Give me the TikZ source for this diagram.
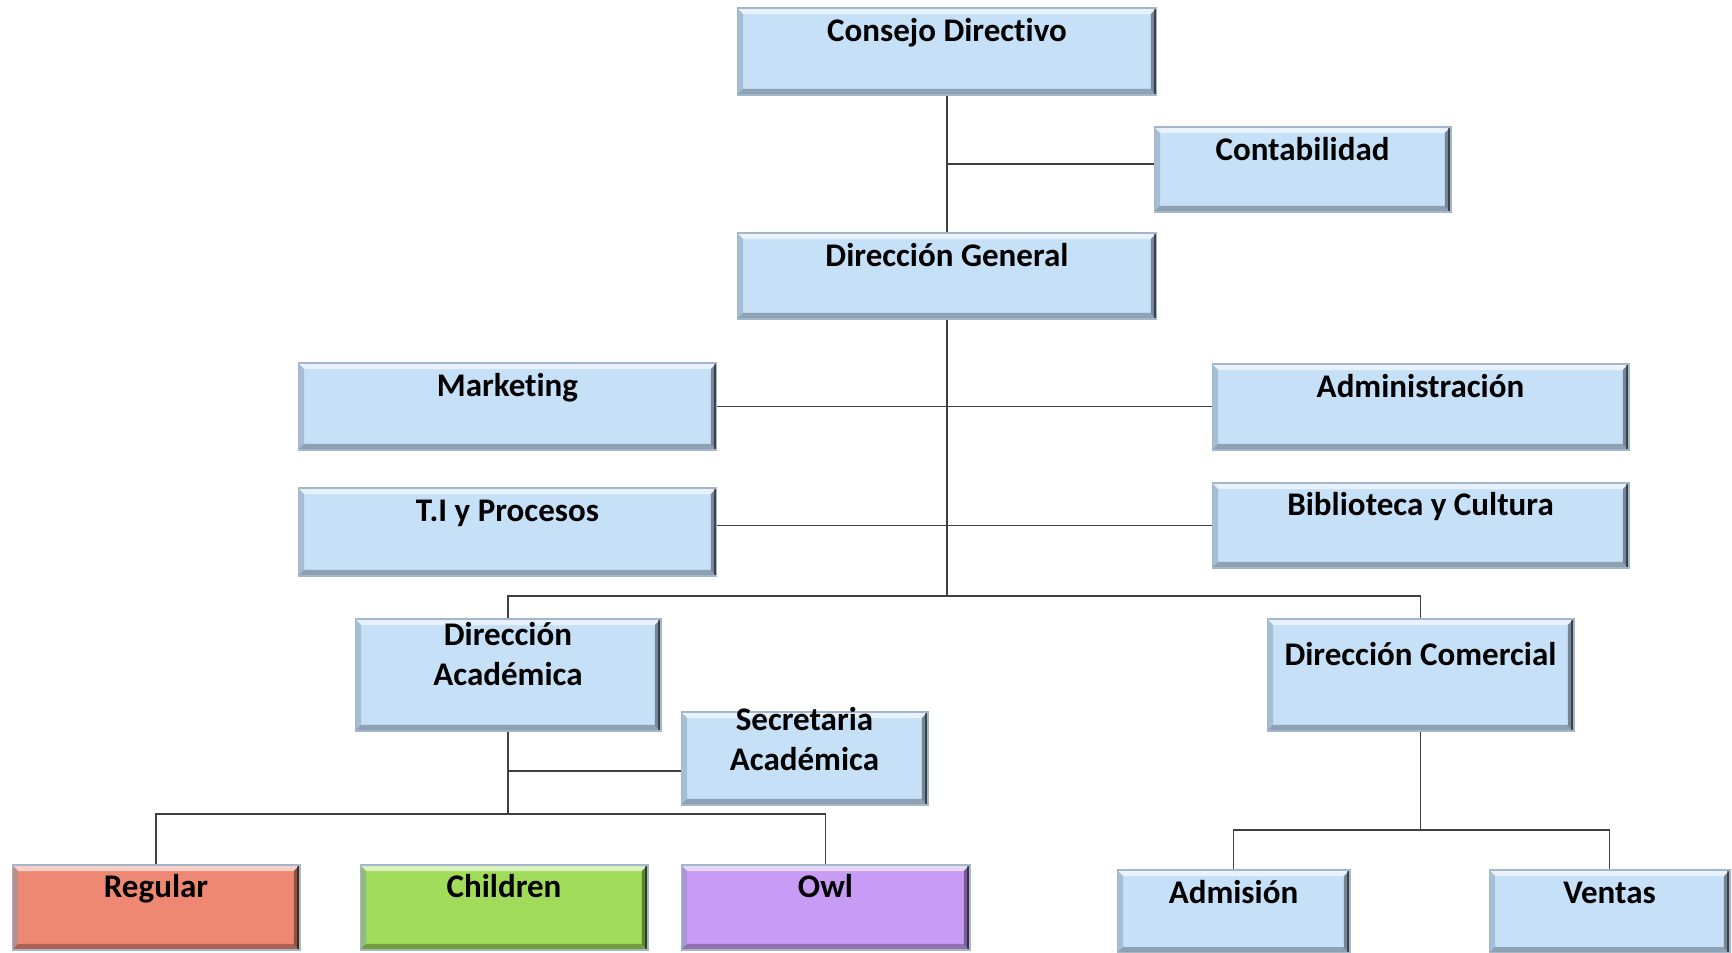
\documentclass[tikz,border=0pt]{standalone}
\usepackage{fontspec}
\setmainfont{Carlito}[Ligatures={NoCommon,NoContextual}]
\usetikzlibrary{calc}
\definecolor{boxblue}{HTML}{C6E0F8}
\definecolor{boxsalmon}{HTML}{EE8872}
\definecolor{boxgreen}{HTML}{A0DC5A}
\definecolor{boxpurple}{HTML}{C89CF4}
\definecolor{bordc}{HTML}{A3B6CA}
\definecolor{leftc}{HTML}{7F95AC}
\definecolor{linec}{HTML}{404040}
\newcommand\bvw{0.12cm}
\tikzset{
  orgbox/.style={rectangle, inner sep=0pt, fill=#1, draw=bordc, line width=0.6pt,
    path picture={
      \fill[white,opacity=.6] (path picture bounding box.north west) -- (path picture bounding box.north east)
        -- ([xshift=-\bvw,yshift=-\bvw]path picture bounding box.north east)
        -- ([xshift=\bvw,yshift=-\bvw]path picture bounding box.north west) -- cycle;
      \fill[leftc,opacity=.45] (path picture bounding box.north west) -- (path picture bounding box.south west)
        -- ([xshift=\bvw,yshift=\bvw]path picture bounding box.south west)
        -- ([xshift=\bvw,yshift=-\bvw]path picture bounding box.north west) -- cycle;
      \fill[black,opacity=.28] (path picture bounding box.south west) -- (path picture bounding box.south east)
        -- ([xshift=-\bvw,yshift=\bvw]path picture bounding box.south east)
        -- ([xshift=\bvw,yshift=\bvw]path picture bounding box.south west) -- cycle;
      \fill[black,opacity=.40] (path picture bounding box.north east) -- (path picture bounding box.south east)
        -- ([xshift=-\bvw,yshift=\bvw]path picture bounding box.south east)
        -- ([xshift=-\bvw,yshift=-\bvw]path picture bounding box.north east) -- cycle;
      \fill[black,opacity=.5] ([xshift=-0.05cm]path picture bounding box.north east) rectangle (path picture bounding box.south east);
    }},
  orgbox/.default=boxblue,
  ttl/.style={anchor=north, inner sep=0pt, align=center, font=\bfseries\fontsize{18.8}{22.7}\selectfont},
  conn/.style={draw=linec, line width=0.85pt}
}
\begin{document}
\begin{tikzpicture}[x=0.02cm,y=-0.02cm]
\useasboundingbox (0,0) rectangle (1732,953);

\node[orgbox, minimum width=8.40cm, minimum height=1.74cm, label={[ttl,yshift=-0.12cm]north:\strut Consejo Directivo}] (cd) at (947,51.5) {};
\node[orgbox, minimum width=5.94cm, minimum height=1.70cm, label={[ttl,yshift=-0.12cm]north:\strut Contabilidad}] (cont) at (1302.5,169.5) {};
\node[orgbox, minimum width=8.40cm, minimum height=1.72cm, label={[ttl,yshift=-0.12cm]north:\strut Dirección General}] (dg) at (947,276) {};
\node[orgbox, minimum width=8.38cm, minimum height=1.74cm, label={[ttl,yshift=-0.12cm]north:\strut Marketing}] (mk) at (507.5,406.5) {};
\node[orgbox, minimum width=8.38cm, minimum height=1.76cm, label={[ttl,yshift=-0.12cm]north:\strut T.I y Procesos}] (ti) at (507.5,532) {};
\node[orgbox, minimum width=8.34cm, minimum height=1.72cm, label={[ttl,yshift=-0.12cm]north:\strut Administración}] (adm) at (1420.5,407) {};
\node[orgbox, minimum width=8.34cm, minimum height=1.70cm, label={[ttl,yshift=-0.10cm]north:\strut Biblioteca y Cultura}] (bib) at (1420.5,525.5) {};
\node[orgbox, minimum width=6.12cm, minimum height=2.24cm, label={[ttl,yshift=0.02cm]north:\strut Dirección\\Académica}] (da) at (508,675) {};
\node[orgbox, minimum width=6.14cm, minimum height=2.24cm, label={[ttl,yshift=-0.38cm]north:\strut Dirección Comercial}] (dc) at (1420.5,675) {};
\node[orgbox, minimum width=4.94cm, minimum height=1.86cm, label={[ttl,yshift=0.18cm]north:\strut Secretaria\\Académica}] (sa) at (804.5,758.5) {};
\node[orgbox=boxsalmon, minimum width=5.76cm, minimum height=1.70cm, label={[ttl,yshift=-0.10cm]north:\strut Regular}] (reg) at (156,907.5) {};
\node[orgbox=boxgreen, minimum width=5.76cm, minimum height=1.70cm, label={[ttl,yshift=-0.10cm]north:\strut Children}] (chi) at (504,907.5) {};
\node[orgbox=boxpurple, minimum width=5.78cm, minimum height=1.70cm, label={[ttl,yshift=-0.10cm]north:\strut Owl}] (owl) at (825.5,907.5) {};
\node[orgbox, minimum width=4.66cm, minimum height=1.66cm, label={[ttl,yshift=-0.12cm]north:\strut Admisión}] (ad) at (1233.5,911.5) {};
\node[orgbox, minimum width=4.82cm, minimum height=1.66cm, label={[ttl,yshift=-0.12cm]north:\strut Ventas}] (ve) at (1609.5,911.5) {};

\coordinate (j1) at (947,164);
\coordinate (j2) at (947,596);
\coordinate (j3) at (508,814);
\coordinate (j4) at (508,771);
\coordinate (j5) at (1420.5,830);

\draw[conn] (cd.south) -- (dg.north);
\draw[conn] (j1) -- (j1 -| cont.west);
\draw[conn] (dg.south) -- (j2);
\draw[conn] (mk.east) -- (mk.east -| adm.west);
\draw[conn] (ti.east |- bib.west) -- (bib.west);
\draw[conn] (da.north) |- (j2) -| (dc.north);
\draw[conn] (da.south) -- (j3);
\draw[conn] (j4) -- (j4 -| sa.west);
\draw[conn] (reg.north) |- (j3) -| (owl.north);
\draw[conn] (dc.south) -- (j5);
\draw[conn] (ad.north) |- (j5) -| (ve.north);
\end{tikzpicture}
\end{document}
